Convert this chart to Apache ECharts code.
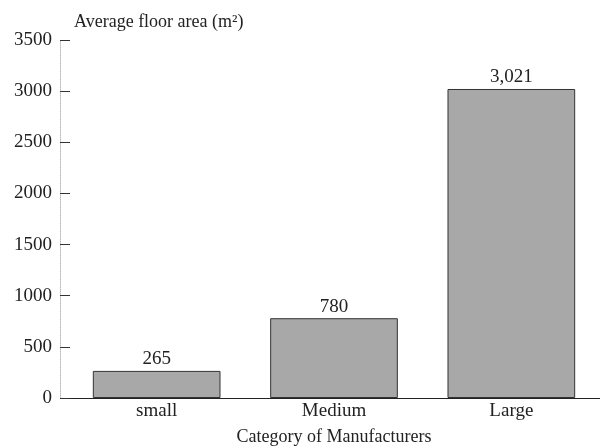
<!DOCTYPE html>
<html><head><meta charset="utf-8">
<script src="https://cdn.jsdelivr.net/npm/echarts@6/dist/echarts.min.js"></script>
<style>html,body{margin:0;padding:0;background:#fff}#c{width:600px;height:448px}</style>
</head><body><div id="c"></div>
<script>
const categories = ["small", "Medium", "Large"];
const values = [265, 780, 3021];
const yTicks = [0, 500, 1000, 1500, 2000, 2500, 3000, 3500];
const yName = "Average floor area (m²)";
const xName = "Category of Manufacturers";

const font = "'Liberation Serif', 'DejaVu Serif', serif";
const chart = echarts.init(document.getElementById('c'), null, {renderer: 'canvas'});
chart.setOption({
  backgroundColor: '#fff',
  animation: false,
  grid: {left: 68, right: 0, top: 40, bottom: 50, containLabel: false, outerBoundsMode: 'none'},
  xAxis: {
    type: 'category',
    data: categories,
    name: xName,
    nameLocation: 'middle',
    nameGap: 30,
    nameTextStyle: {fontFamily: font, fontSize: 18, color: '#222'},
    axisLine: {lineStyle: {color: '#222', width: 1}},
    axisTick: {show: false},
    axisLabel: {fontFamily: font, fontSize: 19, color: '#222', margin: 4}
  },
  yAxis: {
    type: 'value',
    min: yTicks[0],
    max: yTicks[yTicks.length - 1],
    interval: yTicks[1] - yTicks[0],
    offset: 8,
    name: yName,
    nameLocation: 'end',
    nameGap: 9,
    nameTextStyle: {fontFamily: font, fontSize: 18, color: '#222', align: 'left', padding: [0, 0, 0, 14]},
    axisLine: {show: true, lineStyle: {color: '#bbb', width: 1, type: 'dotted'}},
    axisTick: {show: true, inside: true, length: 10, lineStyle: {color: '#333', width: 1}},
    axisLabel: {fontFamily: font, fontSize: 19, color: '#222', margin: 8, formatter: v => String(v)},
    splitLine: {show: false}
  },
  series: [{
    type: 'bar',
    data: values,
    barCategoryGap: '28%',
    itemStyle: {color: '#a8a8a8', borderColor: '#333', borderWidth: 1},
    label: {
      show: true, position: 'top', distance: 2,
      fontFamily: font, fontSize: 19, color: '#222',
      formatter: p => p.value.toLocaleString('en-US')
    }
  }]
});
</script></body></html>
